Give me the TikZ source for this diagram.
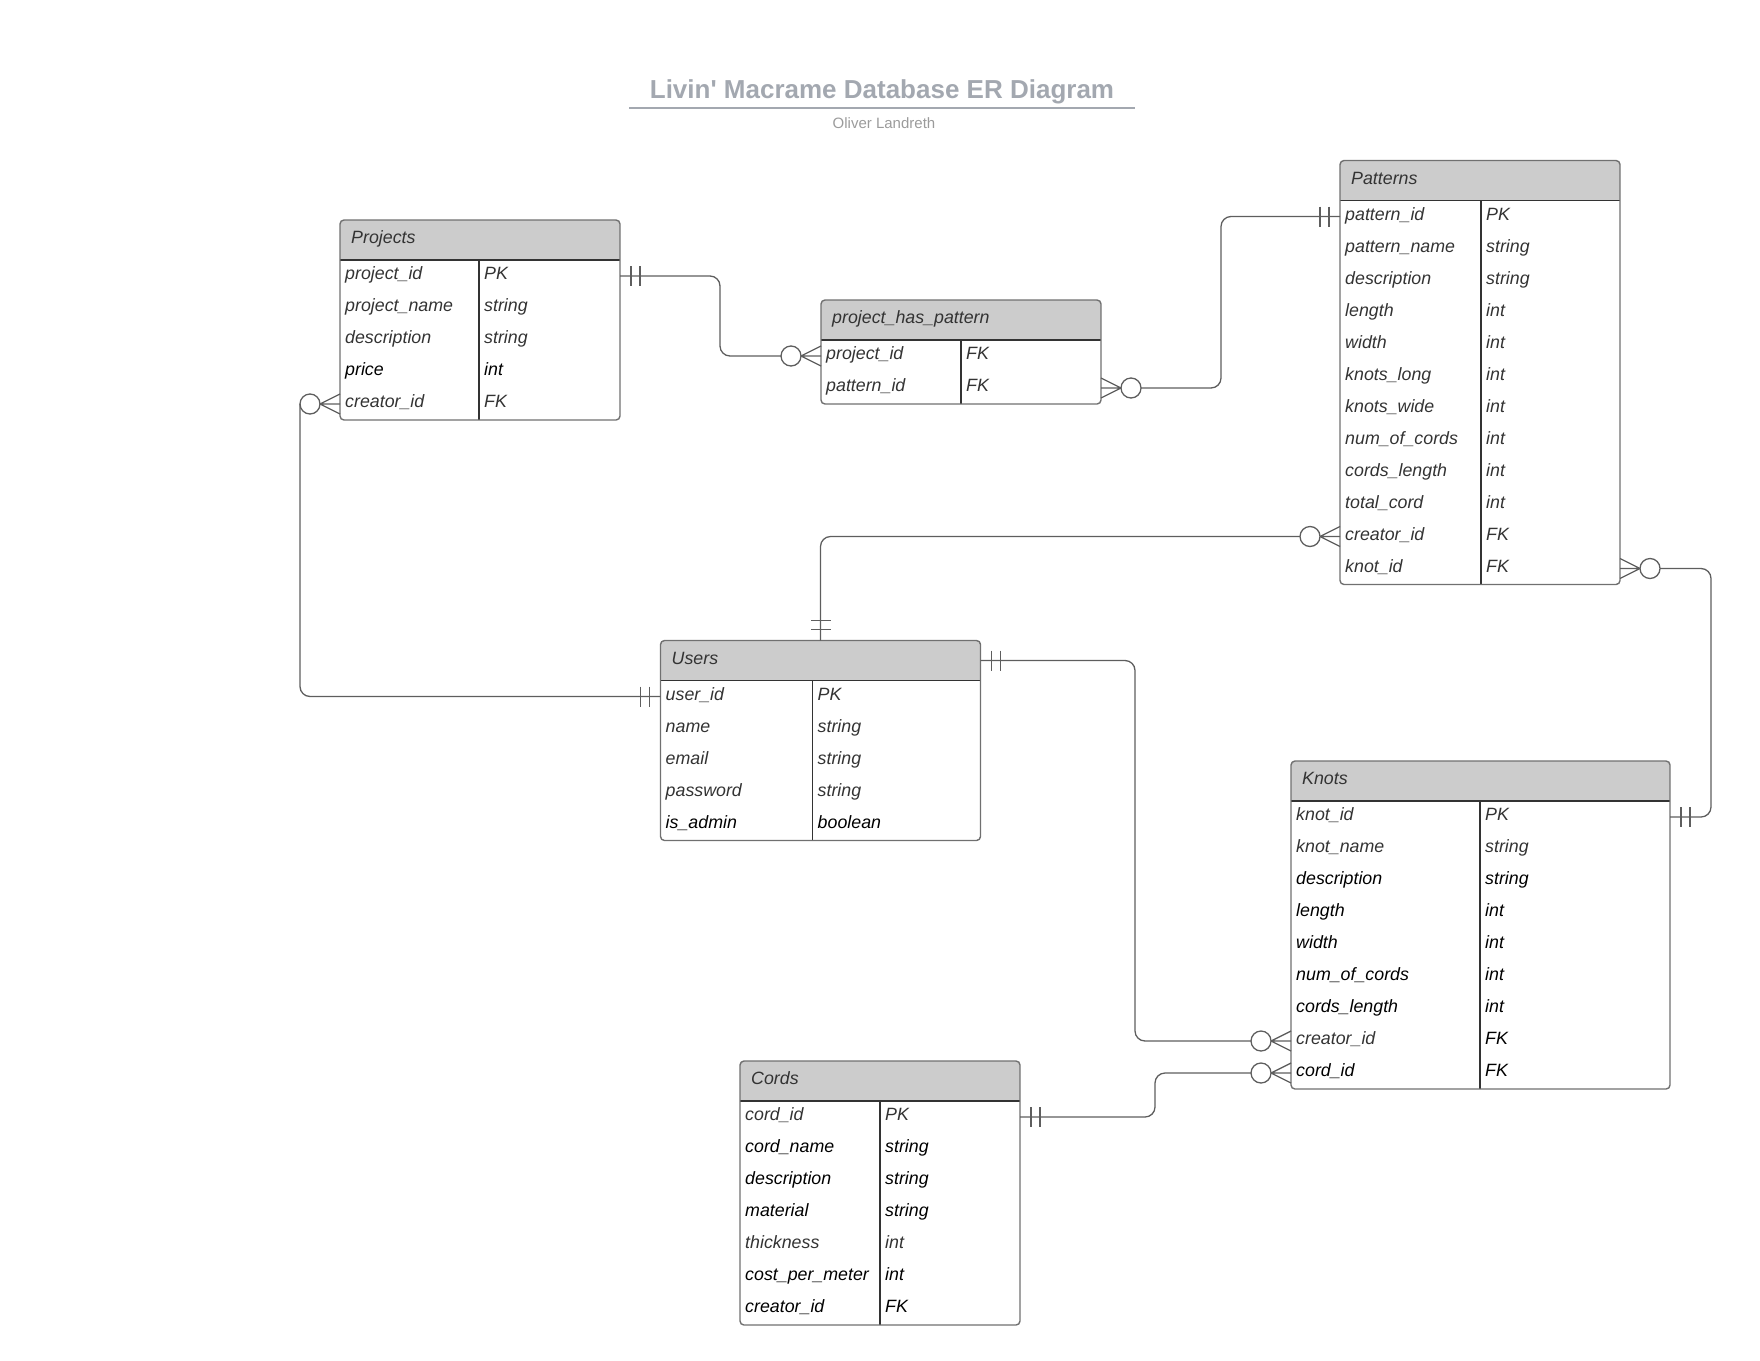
\documentclass[tikz,border=0pt]{standalone}
\usepackage{fontspec}
\setmainfont{Liberation Sans}
\usetikzlibrary{calc}
\definecolor{txtgray}{HTML}{333333}
\definecolor{hdrgray}{HTML}{CCCCCC}
\definecolor{bordergray}{HTML}{707070}
\definecolor{linegray}{HTML}{5E5E5E}
\definecolor{titlegray}{HTML}{A3A8B0}
\definecolor{subgray}{HTML}{9B9B9B}
\tikzset{
  tblshape/.style={rectangle, inner sep=0pt, outer sep=0pt},
  tblborder/.style={draw=bordergray, line width=1.4pt, rounded corners=4pt},
  innerline/.style={draw=txtgray, line width=1.2pt},
  conn/.style={draw=linegray, line width=1.3pt, rounded corners=10pt},
  endline/.style={draw=linegray, line width=1.3pt},
  celltext/.style={font=\fontsize{17.8}{20}\selectfont\itshape, inner sep=0pt, anchor=base west},
  hdrtext/.style={font=\fontsize{17.8}{20}\selectfont\itshape, text=txtgray, inner sep=0pt, anchor=base west},
}
% #1 name, #2 x, #3 y, #4 width, #5 nrows, #6 title
\newcommand{\ertable}[6]{%
  \node[tblshape, minimum width=#4pt, minimum height={(40+32*#5)*1pt}, anchor=north west] (#1) at (#2,#3) {};
  \begin{scope}
    \clip[rounded corners=4pt] (#1.north west) rectangle (#1.south east);
    \fill[hdrgray] (#1.north west) rectangle ([yshift=-40pt]#1.north east);
  \end{scope}
  \draw[innerline] ([yshift=-40pt]#1.north west) -- ([yshift=-40pt]#1.north east);
  \node[hdrtext] (#1-title) at ([xshift=11pt,yshift=-23.5pt]#1.north west) {#6};
}
% #1 name, #2 row (1-based), #3 divider offset, #4 left text, #5 right text, #6 left colour, #7 right colour
\newcommand{\errow}[7]{%
  \node[celltext, text=#6] (#1-a#2) at ([xshift=5pt, yshift={-(40+32*(#2-0.5)+3.5)*1pt}]#1.north west) {#4};
  \node[celltext, text=#7] (#1-b#2) at ([xshift={(#3+5)*1pt}, yshift={-(40+32*(#2-0.5)+3.5)*1pt}]#1.north west) {#5};
  \coordinate (#1-L#2) at ([yshift={-(40+32*(#2-0.5))*1pt}]#1.north west);
  \coordinate (#1-R#2) at ([yshift={-(40+32*(#2-0.5))*1pt}]#1.north east);
}
% #1 name, #2 divider offset
\newcommand{\erclose}[2]{%
  \draw[innerline] ([xshift=#2pt,yshift=-40pt]#1.north west) -- ([xshift=#2pt]#1.south west);
  \draw[tblborder] (#1.north west) rectangle (#1.south east);
}
% crow's foot with circle: #1 edge point, #2 outward direction (+1 right, -1 left)
\newcommand{\manyend}[2]{%
  \draw[endline] ([xshift={20*(#2)*1pt}]#1) -- ([yshift=10pt]#1)
    ([xshift={20*(#2)*1pt}]#1) -- (#1)
    ([xshift={20*(#2)*1pt}]#1) -- ([yshift=-10pt]#1);
  \draw[endline] ([xshift={30*(#2)*1pt}]#1) circle[radius=10pt];
}
% two bars, horizontal connector
\newcommand{\oneend}[2]{%
  \draw[endline] ([xshift={11*(#2)*1pt},yshift=10pt]#1) -- ([xshift={11*(#2)*1pt},yshift=-10pt]#1)
    ([xshift={20*(#2)*1pt},yshift=10pt]#1) -- ([xshift={20*(#2)*1pt},yshift=-10pt]#1);
}
% two bars, vertical connector going up
\newcommand{\oneendup}[1]{%
  \draw[endline] ([xshift=10pt,yshift=11pt]#1) -- ([xshift=-10pt,yshift=11pt]#1)
    ([xshift=10pt,yshift=20pt]#1) -- ([xshift=-10pt,yshift=20pt]#1);
}
\begin{document}
\begin{tikzpicture}[x=1pt,y=-1pt]
\useasboundingbox (0,0) rectangle (1760,1360);

% title
\node[anchor=base, inner sep=0pt, font=\fontsize{26}{30}\selectfont\bfseries, text=titlegray] (title) at (882,98.5) {Livin\textquotesingle\ Macrame Database ER Diagram};
\coordinate (ulA) at (629,108);
\coordinate (ulB) at (1135,108);
\draw[titlegray, line width=1.8pt] (ulA) -- (ulB);
\node[anchor=base, inner sep=0pt, font=\fontsize{15}{18}\selectfont, text=subgray] (subtitle) at (884,128) {Oliver Landreth};

% Projects
\ertable{proj}{340}{220}{280}{5}{Projects}
\errow{proj}{1}{139}{project\_id}{PK}{txtgray}{txtgray}
\errow{proj}{2}{139}{project\_name}{string}{txtgray}{txtgray}
\errow{proj}{3}{139}{description}{string}{txtgray}{txtgray}
\errow{proj}{4}{139}{price}{int}{black}{black}
\errow{proj}{5}{139}{creator\_id}{FK}{txtgray}{txtgray}
\erclose{proj}{139}

% project_has_pattern
\ertable{php}{821}{300}{280}{2}{project\_has\_pattern}
\errow{php}{1}{140}{project\_id}{FK}{txtgray}{txtgray}
\errow{php}{2}{140}{pattern\_id}{FK}{txtgray}{txtgray}
\erclose{php}{140}

% Patterns
\ertable{pat}{1340}{160.5}{280}{12}{Patterns}
\errow{pat}{1}{141}{pattern\_id}{PK}{txtgray}{txtgray}
\errow{pat}{2}{141}{pattern\_name}{string}{txtgray}{txtgray}
\errow{pat}{3}{141}{description}{string}{txtgray}{txtgray}
\errow{pat}{4}{141}{length}{int}{txtgray}{txtgray}
\errow{pat}{5}{141}{width}{int}{txtgray}{txtgray}
\errow{pat}{6}{141}{knots\_long}{int}{txtgray}{txtgray}
\errow{pat}{7}{141}{knots\_wide}{int}{txtgray}{txtgray}
\errow{pat}{8}{141}{num\_of\_cords}{int}{txtgray}{txtgray}
\errow{pat}{9}{141}{cords\_length}{int}{txtgray}{txtgray}
\errow{pat}{10}{141}{total\_cord}{int}{txtgray}{txtgray}
\errow{pat}{11}{141}{creator\_id}{FK}{txtgray}{txtgray}
\errow{pat}{12}{141}{knot\_id}{FK}{txtgray}{txtgray}
\erclose{pat}{141}

% Users
\ertable{usr}{660.5}{640.5}{320}{5}{Users}
\errow{usr}{1}{152}{user\_id}{PK}{txtgray}{txtgray}
\errow{usr}{2}{152}{name}{string}{txtgray}{txtgray}
\errow{usr}{3}{152}{email}{string}{txtgray}{txtgray}
\errow{usr}{4}{152}{password}{string}{txtgray}{txtgray}
\errow{usr}{5}{152}{is\_admin}{boolean}{black}{black}
\erclose{usr}{152}
\coordinate (usr-H) at ([yshift=-20pt]usr.north east);

% Knots
\ertable{knt}{1291}{761}{379}{9}{Knots}
\errow{knt}{1}{189}{knot\_id}{PK}{txtgray}{txtgray}
\errow{knt}{2}{189}{knot\_name}{string}{txtgray}{txtgray}
\errow{knt}{3}{189}{description}{string}{black}{black}
\errow{knt}{4}{189}{length}{int}{black}{black}
\errow{knt}{5}{189}{width}{int}{black}{black}
\errow{knt}{6}{189}{num\_of\_cords}{int}{black}{black}
\errow{knt}{7}{189}{cords\_length}{int}{black}{black}
\errow{knt}{8}{189}{creator\_id}{FK}{txtgray}{black}
\errow{knt}{9}{189}{cord\_id}{FK}{black}{black}
\erclose{knt}{189}

% Cords
\ertable{crd}{740}{1061}{280}{7}{Cords}
\errow{crd}{1}{140}{cord\_id}{PK}{txtgray}{txtgray}
\errow{crd}{2}{140}{cord\_name}{string}{black}{black}
\errow{crd}{3}{140}{description}{string}{black}{black}
\errow{crd}{4}{140}{material}{string}{black}{black}
\errow{crd}{5}{140}{thickness}{int}{txtgray}{txtgray}
\errow{crd}{6}{140}{cost\_per\_meter}{int}{black}{black}
\errow{crd}{7}{140}{creator\_id}{FK}{black}{black}
\erclose{crd}{140}

% connector channels
\coordinate (ch1) at (720,0);
\coordinate (ch2) at (1221,0);
\coordinate (ch4) at (1711,0);
\coordinate (ch5) at (300,0);
\coordinate (ch6) at (1135,0);
\coordinate (ch7) at (1155,0);

% C1 Projects.project_id -- project_has_pattern.project_id
\draw[conn] (proj-R1) -- (proj-R1 -| ch1) -- (php-L1 -| ch1) -- ([xshift=-40pt]php-L1);
\oneend{proj-R1}{1}
\manyend{php-L1}{-1}

% C2 project_has_pattern.pattern_id -- Patterns.pattern_id
\draw[conn] ([xshift=40pt]php-R2) -- (php-R2 -| ch2) -- (pat-L1 -| ch2) -- (pat-L1);
\manyend{php-R2}{1}
\oneend{pat-L1}{-1}

% C3 Patterns.creator_id -- Users
\draw[conn] ([xshift=-40pt]pat-L11) -- (pat-L11 -| usr.north) -- (usr.north);
\manyend{pat-L11}{-1}
\oneendup{usr.north}

% C4 Patterns.knot_id -- Knots.knot_id
\draw[conn] ([xshift=40pt]pat-R12) -- (pat-R12 -| ch4) -- (knt-R1 -| ch4) -- (knt-R1);
\manyend{pat-R12}{1}
\oneend{knt-R1}{1}

% C5 Projects.creator_id -- Users.user_id
\draw[conn] ([xshift=-40pt]proj-L5) -- (usr-L1 -| ch5) -- (usr-L1);
\manyend{proj-L5}{-1}
\oneend{usr-L1}{-1}

% C6 Users -- Knots.creator_id
\draw[conn] (usr-H) -- (usr-H -| ch6) -- (knt-L8 -| ch6) -- ([xshift=-40pt]knt-L8);
\oneend{usr-H}{1}
\manyend{knt-L8}{-1}

% C7 Cords.cord_id -- Knots.cord_id
\draw[conn] (crd-R1) -- (crd-R1 -| ch7) -- (knt-L9 -| ch7) -- ([xshift=-40pt]knt-L9);
\oneend{crd-R1}{1}
\manyend{knt-L9}{-1}
\end{tikzpicture}
\end{document}
